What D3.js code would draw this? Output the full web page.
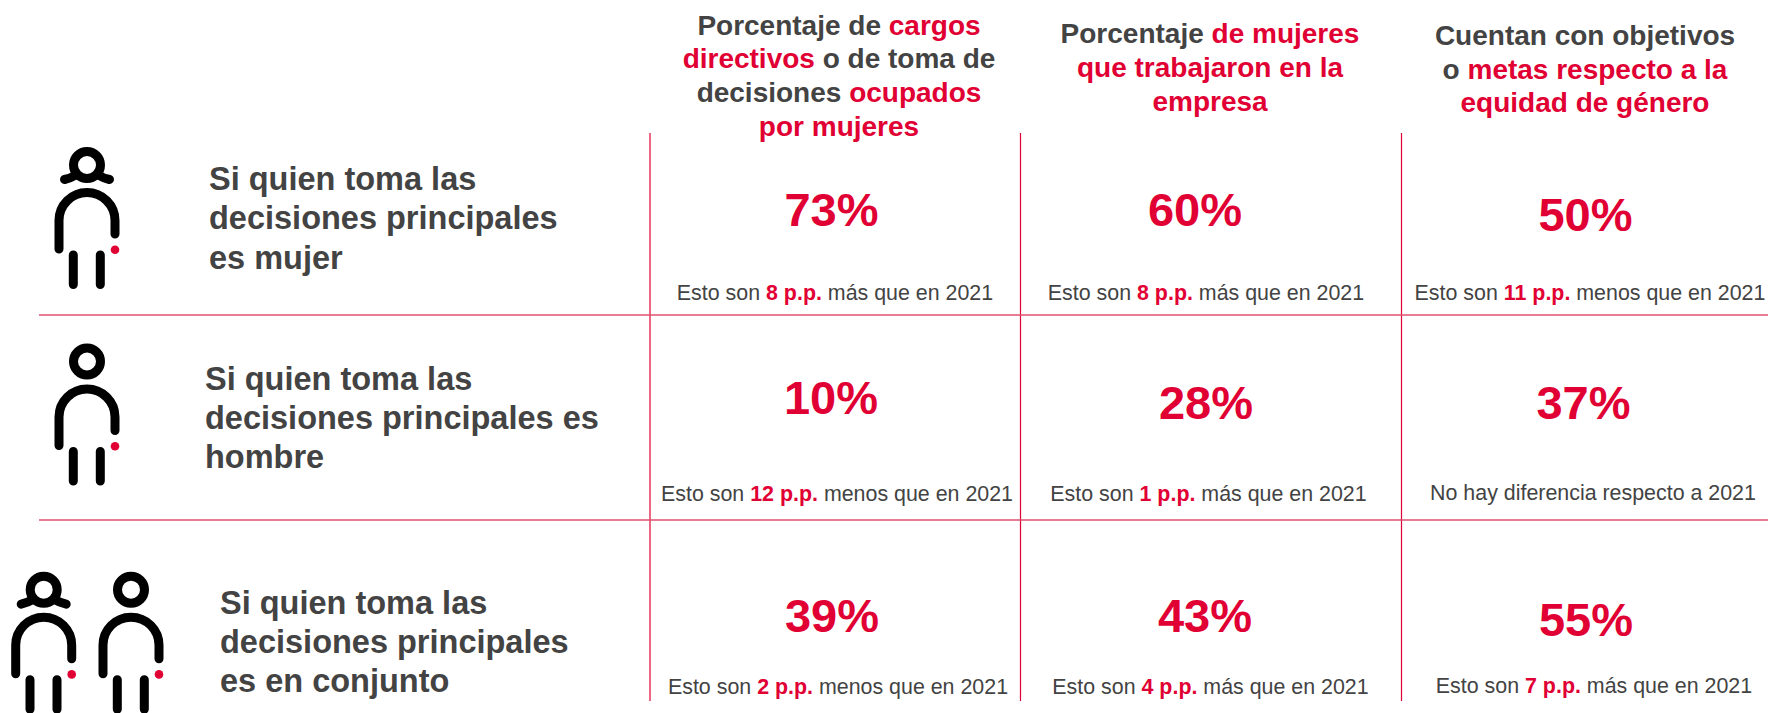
<!DOCTYPE html>
<html>
<head>
<meta charset="utf-8">
<script src="https://cdn.jsdelivr.net/npm/d3@7"></script>
<style>
html, body { margin: 0; padding: 0; background: #fff; }
svg { display: block; }
text { font-family: "Liberation Sans", Arial, sans-serif; }
</style>
</head>
<body>
<svg id="chart" width="1768" height="713"></svg>
<script>
// [text, highlighted]
const headers = [
    [[["Porcentaje de ", 0], ["cargos", 1]],
     [["directivos", 1], [" o de toma de", 0]],
     [["decisiones ", 0], ["ocupados", 1]],
     [["por mujeres", 1]]],
    [[["Porcentaje ", 0], ["de mujeres", 1]],
     [["que trabajaron en la", 1]],
     [["empresa", 1]]],
    [[["Cuentan con objetivos", 0]],
     [["o ", 0], ["metas respecto a la", 1]],
     [["equidad de género", 1]]]
]
const rowLabels = [
    ["Si quien toma las", "decisiones principales", "es mujer"],
    ["Si quien toma las", "decisiones principales es", "hombre"],
    ["Si quien toma las", "decisiones principales", "es en conjunto"]
]
const values = [
    [73, 60, 50],
    [10, 28, 37],
    [39, 43, 55]
]
const diffs = [
    [[8, "más"], [8, "más"], [11, "menos"]],
    [[12, "menos"], [1, "más"], null],
    [[2, "menos"], [4, "más"], [7, "más"]]
]

// layout
const red = "#e10033", grey = "#434343", lineRed = "#e0506f"
const colLines = [650, 1020.5, 1401.5]
const rowLines = [315, 520]
const headerX = [839, 1210, 1585]
const headerY = [[34.5, 68, 102, 135.5], [43, 76.5, 110.5], [45, 78.5, 112]]
const labelX = [209, 205, 220]
const labelY = [[189.5, 229, 268.5], [389.5, 428.5, 468], [613.5, 652.5, 692]]
const valueX = [[831.5, 1195, 1585.5], [831, 1206, 1583.5], [832, 1205, 1586]]
const valueY = [[225.5, 225.5, 231], [414, 418.5, 418.5], [632, 632, 636]]
const noteX = [[835, 1206, 1590], [837, 1208.5, 1593], [838, 1210.5, 1594]]
const noteY = [[299.5, 299.5, 299.5], [501, 501, 500], [694, 694, 693]]
const noteSize = 21.4
// icons: [head x, head y, woman?]
const icons = [[87, 165, 1], [87, 361.5, 0], [43.7, 589.7, 1], [131, 589.7, 0]]

const svg = d3.select("#chart")

svg.selectAll("line.col").data(colLines).enter()
    .append("line").attr("class", "col")
    .attr("x1", d => d).attr("x2", d => d)
    .attr("y1", 133).attr("y2", 701)
    .attr("stroke", red).attr("stroke-width", 1.2)

svg.selectAll("line.row").data(rowLines).enter()
    .append("line").attr("class", "row")
    .attr("x1", 39).attr("x2", 1768)
    .attr("y1", d => d).attr("y2", d => d)
    .attr("stroke", lineRed).attr("stroke-width", 1.6)

// mixed colour text, centred
const addRuns = (sel, runs) => {
    sel.selectAll("tspan").data(runs).enter()
        .append("tspan")
        .attr("fill", d => d[1] ? red : grey)
        .attr("font-weight", d => d[2] === "normal" ? "normal" : "bold")
        .text(d => d[0])
}

headers.forEach((lines, c) => {
    lines.forEach((runs, l) => {
        svg.append("text")
            .attr("x", headerX[c])
            .attr("y", headerY[c][l])
            .attr("text-anchor", "middle")
            .attr("font-size", 28)
            .attr("xml:space", "preserve")
            .call(addRuns, runs)
    })
})

rowLabels.forEach((lines, r) => {
    lines.forEach((t, l) => {
        svg.append("text")
            .attr("x", labelX[r])
            .attr("y", labelY[r][l])
            .attr("font-size", 32.5)
            .attr("font-weight", "bold")
            .attr("fill", grey)
            .text(t)
    })
})

values.forEach((row, r) => {
    row.forEach((v, c) => {
        svg.append("text")
            .attr("x", valueX[r][c])
            .attr("y", valueY[r][c])
            .attr("text-anchor", "middle")
            .attr("font-size", 47)
            .attr("font-weight", "bold")
            .attr("fill", red)
            .text(v + "%")
    })
})

diffs.forEach((row, r) => {
    row.forEach((d, c) => {
        let runs = d
            ? [["Esto son ", 0, "normal"], [d[0] + " p.p.", 1], [" " + d[1] + " que en 2021", 0, "normal"]]
            : [["No hay diferencia respecto a 2021", 0, "normal"]]
        svg.append("text")
            .attr("x", noteX[r][c])
            .attr("y", noteY[r][c])
            .attr("text-anchor", "middle")
            .attr("font-size", noteSize)
            .attr("xml:space", "preserve")
            .call(addRuns, runs)
    })
})

// person pictogram, drawn around the centre of the head
const drawPerson = ([x, y, woman]) => {
    let g = svg.append("g")
        .attr("transform", `translate(${x},${y})`)
        .attr("fill", "none")
        .attr("stroke", "#000")
        .attr("stroke-width", 9)
        .attr("stroke-linecap", "round")

    g.append("circle").attr("r", 13.5)
    if (woman) {
        g.append("path").attr("d", "M-22.5,14.5 Q-16,13 -11,10 M22.5,14.5 Q16,13 11,10")
    }
    g.append("path").attr("d", "M-28,84 V55.5 A28,28 0 0 1 28,55.5 V69")
    g.append("path").attr("d", "M-13.7,90 V119.5 M13.3,90 V119.5")
    g.append("circle")
        .attr("cx", 28).attr("cy", 84.7).attr("r", 4.3)
        .attr("fill", red).attr("stroke", "none")
}
icons.forEach(drawPerson)
</script>
</body>
</html>
